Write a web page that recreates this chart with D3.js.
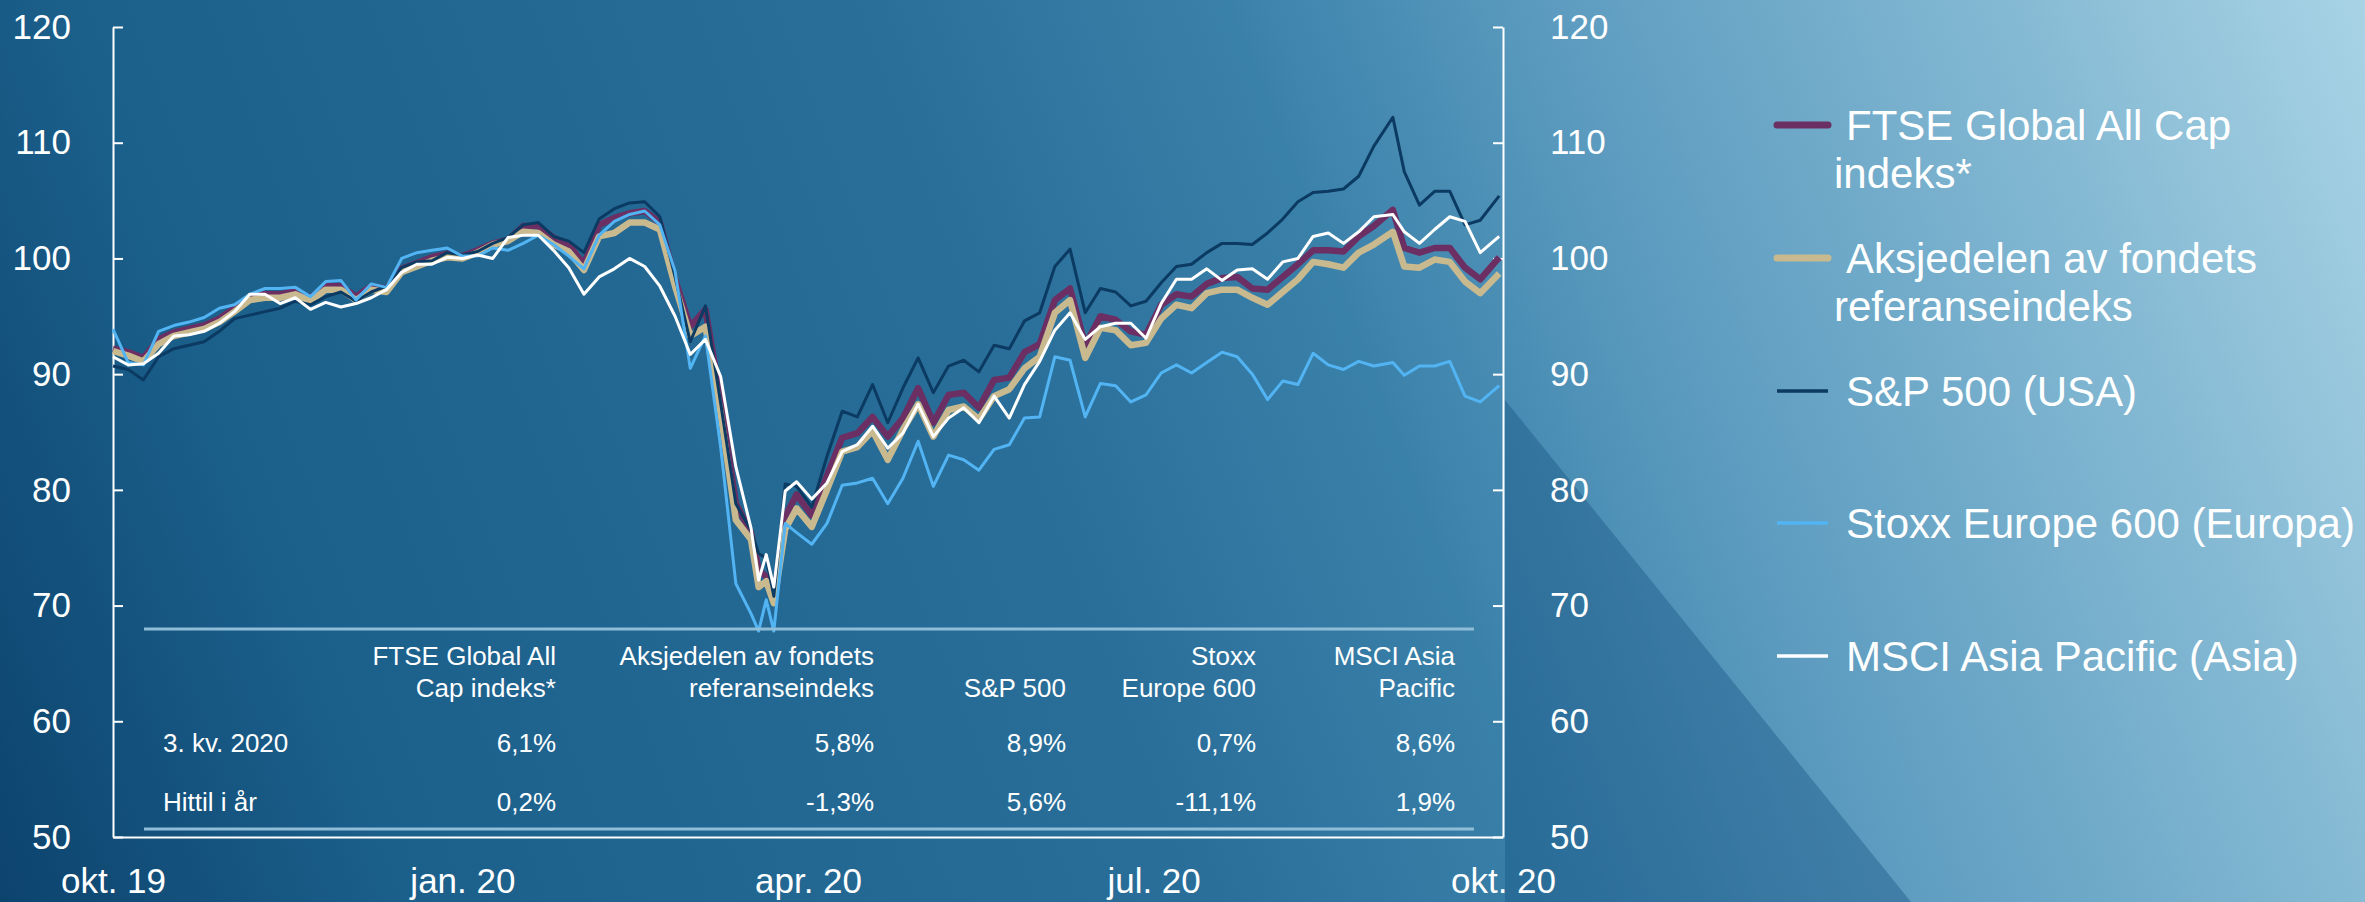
<!DOCTYPE html>
<html>
<head>
<meta charset="utf-8">
<script src="https://d3js.org/d3.v7.min.js"></script>
<style>
  body { margin: 0; overflow: hidden; background: #1b5d88; }
  svg { display: block; }
  text { font-family: "Liberation Sans", Arial, sans-serif; fill: #fff; }
</style>
</head>
<body>
<div id="chart"></div>
<script>
// data (index level, 1.1.2020 = 100)
var dates = ["2019-10-01","2019-10-05","2019-10-09","2019-10-13","2019-10-17","2019-10-21","2019-10-25","2019-10-29",
  "2019-11-02","2019-11-06","2019-11-10","2019-11-14","2019-11-18","2019-11-22","2019-11-26","2019-11-30",
  "2019-12-04","2019-12-08","2019-12-12","2019-12-16","2019-12-20","2019-12-24","2019-12-28",
  "2020-01-01","2020-01-05","2020-01-09","2020-01-13","2020-01-17","2020-01-21","2020-01-25","2020-01-29",
  "2020-02-02","2020-02-06","2020-02-10","2020-02-14","2020-02-18","2020-02-22","2020-02-26",
  "2020-03-01","2020-03-05","2020-03-09","2020-03-13","2020-03-17","2020-03-19","2020-03-21","2020-03-23","2020-03-26","2020-03-29",
  "2020-04-02","2020-04-06","2020-04-10","2020-04-14","2020-04-18","2020-04-22","2020-04-26","2020-04-30",
  "2020-05-04","2020-05-08","2020-05-12","2020-05-16","2020-05-20","2020-05-24","2020-05-28",
  "2020-06-01","2020-06-05","2020-06-09","2020-06-13","2020-06-17","2020-06-21","2020-06-25","2020-06-29",
  "2020-07-03","2020-07-07","2020-07-11","2020-07-15","2020-07-19","2020-07-23","2020-07-27","2020-07-31",
  "2020-08-04","2020-08-08","2020-08-12","2020-08-16","2020-08-20","2020-08-24","2020-08-28",
  "2020-09-02","2020-09-05","2020-09-09","2020-09-13","2020-09-17","2020-09-21","2020-09-25","2020-09-30"];

var ftse = [92.2,91.9,91.4,93.0,93.6,93.9,94.2,94.8,95.7,96.7,
  96.9,96.9,97.2,96.6,97.6,97.6,96.7,97.6,97.4,99.1,
  99.6,100.1,100.4,100.2,100.7,101.3,101.6,102.8,102.8,101.8,
  101.2,99.5,102.9,103.5,103.9,104.1,103.1,98.2,94.1,95.6,
  87.8,78.8,76.3,73.1,72.5,70.5,77.7,79.6,77.8,81.2,
  84.5,84.9,86.3,84.6,86.2,88.8,85.8,88.2,88.4,87.1,
  89.5,89.7,91.9,92.6,96.4,97.4,92.5,95.0,94.7,93.7,
  93.4,96.0,96.9,96.7,97.8,98.3,98.4,97.4,97.3,98.4,
  99.5,100.7,100.7,100.6,101.9,102.8,104.2,100.9,100.5,100.9,
  100.9,99.2,98.2,100.1];

var aksje = [92.0,91.6,91.1,92.6,93.3,93.6,93.9,94.5,95.4,96.4,
  96.6,96.6,96.9,96.3,97.3,97.3,96.4,97.3,97.1,98.8,
  99.3,99.8,100.1,100.0,100.5,101.2,101.5,102.3,102.2,101.2,
  100.6,99.0,101.9,102.2,103.1,103.1,102.5,97.6,93.3,94.1,
  86.6,77.4,75.7,71.6,72.1,70.2,76.6,78.4,76.8,80.0,
  83.3,83.7,85.1,82.6,85.2,87.4,84.6,86.9,87.2,86.1,
  88.1,88.7,90.5,91.5,95.3,96.4,91.4,94.0,93.8,92.5,
  92.7,94.8,96.0,95.7,97.0,97.3,97.3,96.6,96.0,97.1,
  98.2,99.7,99.5,99.2,100.5,101.2,102.3,99.3,99.2,99.9,
  99.7,98.0,97.0,98.7];

var sp500 = [90.7,90.4,89.5,91.5,92.2,92.5,92.8,93.7,94.8,95.1,
  95.4,95.7,96.3,96.0,96.7,97.1,96.3,97.1,97.6,99.2,
  99.7,99.8,100.5,100.3,100.6,101.3,101.8,102.9,103.1,101.9,
  101.5,100.5,103.4,104.3,104.8,104.9,103.6,98.4,92.8,95.9,
  87.5,78.8,76.5,74.5,74.1,70.8,80.5,80.3,78.5,82.9,
  86.8,86.3,89.1,85.8,88.8,91.4,88.4,90.7,91.2,90.2,
  92.5,92.2,94.6,95.3,99.3,100.8,95.3,97.4,97.1,95.9,
  96.3,97.9,99.3,99.5,100.5,101.3,101.3,101.2,102.2,103.4,
  104.9,105.7,105.8,106.0,107.1,109.7,112.2,107.5,104.6,105.8,
  105.8,102.9,103.3,105.4];

var stoxx = [93.9,91.0,90.8,93.7,94.2,94.5,94.9,95.7,96.0,96.9,
  97.4,97.4,97.5,96.7,98.0,98.1,96.4,97.8,97.5,100.0,
  100.5,100.7,100.9,100.2,100.2,100.9,100.7,101.3,102.0,101.2,
  100.2,99.1,102.0,103.2,103.8,104.1,102.9,98.9,90.5,93.3,
  83.7,71.9,69.3,67.8,70.5,67.8,77.1,76.3,75.3,77.1,
  80.4,80.6,81.0,78.8,81.0,84.2,80.3,83.0,82.6,81.7,
  83.5,83.9,86.2,86.3,91.5,91.2,86.3,89.2,89.0,87.6,
  88.2,90.1,90.8,90.1,91.0,91.9,91.5,90.0,87.8,89.4,
  89.1,91.8,90.8,90.4,91.1,90.7,91.0,89.9,90.7,90.7,
  91.1,88.1,87.6,89.0];

var msci = [91.5,90.8,90.9,91.8,93.3,93.4,93.7,94.4,95.4,96.9,
  96.9,96.1,96.6,95.6,96.2,95.8,96.1,96.6,97.3,98.8,
  99.5,99.5,100.1,100.0,100.3,100.0,101.8,102.0,102.0,100.7,
  99.2,96.9,98.4,99.1,100.0,99.3,97.6,95.0,91.7,93.0,
  89.8,82.0,76.7,72.2,74.4,71.6,79.9,80.7,79.2,80.6,
  83.3,83.9,85.5,83.6,84.9,87.4,84.6,86.2,87.1,85.8,
  88.1,86.2,89.1,91.1,93.8,95.3,93.0,94.1,94.4,94.4,
  93.1,96.1,98.2,98.2,99.1,98.1,99.0,99.1,98.2,99.7,
  100.0,101.9,102.2,101.3,102.3,103.6,103.8,102.3,101.3,102.5,
  103.6,103.2,100.5,101.9];

var yTicks = [50, 60, 70, 80, 90, 100, 110, 120];
var xTickDates = ["2019-10-01", "2020-01-01", "2020-04-01", "2020-07-01", "2020-10-01"];
var xTickLabels = ["okt. 19", "jan. 20", "apr. 20", "jul. 20", "okt. 20"];

var tableHeaders = [["FTSE Global All", "Cap indeks*"], ["Aksjedelen av fondets", "referanseindeks"],
  ["", "S&P 500"], ["Stoxx", "Europe 600"], ["MSCI Asia", "Pacific"]];
var tableRowLabels = ["3. kv. 2020", "Hittil i år"];
var q3Returns = ["6,1%", "5,8%", "8,9%", "0,7%", "8,6%"];
var ytdReturns = ["0,2%", "-1,3%", "5,6%", "-11,1%", "1,9%"];

var legendLabels = [["FTSE Global All Cap", "indeks*"], ["Aksjedelen av fondets", "referanseindeks"],
  ["S&P 500 (USA)"], ["Stoxx Europe 600 (Europa)"], ["MSCI Asia Pacific (Asia)"]];

//Set up chart
var svgWidth = 2365;
var svgHeight = 902;

var margin = { top: 27, right: 862, bottom: 65, left: 113 };
var width = svgWidth - margin.left - margin.right;
var height = svgHeight - margin.top - margin.bottom;

var parseDate = d3.timeParse("%Y-%m-%d");

var svg = d3.select("#chart")
  .append("svg")
  .attr("width", svgWidth)
  .attr("height", svgHeight);

// background
var defs = svg.append("defs");
var bg = defs.append("linearGradient")
  .attr("id", "bg")
  .attr("gradientUnits", "userSpaceOnUse")
  .attr("x1", 0).attr("y1", svgHeight)
  .attr("x2", svgWidth).attr("y2", 0);
[[0, "#0c446e"], [0.15, "#1b5f8b"], [0.45, "#2a6f9a"], [0.58, "#3a81aa"],
 [0.7, "#5d9cc0"], [0.85, "#80b6d1"], [1, "#a8d3e5"]].forEach(function(s) {
  bg.append("stop").attr("offset", s[0]).attr("stop-color", s[1]);
});

svg.append("rect")
  .attr("width", svgWidth)
  .attr("height", svgHeight)
  .attr("fill", "url(#bg)");

// darker wedge right of the plot
svg.append("polygon")
  .attr("points", [[1505, 400], [1911, 902], [1505, 902]].join(" "))
  .attr("fill", "rgba(18,78,125,0.38)");

var chartGroup = svg.append("g")
  .attr("transform", `translate(${margin.left}, ${margin.top})`);

var xScale = d3.scaleTime()
  .domain([parseDate("2019-10-01"), parseDate("2020-10-01")])
  .range([0, width]);

var yScale = d3.scaleLinear()
  .domain([50, 120])
  .range([height, 0]);

// axes
var leftAxis = d3.axisLeft(yScale).tickValues(yTicks).tickSize(-10).tickSizeOuter(0).tickPadding(42);
var rightAxis = d3.axisRight(yScale).tickValues(yTicks).tickSize(-10).tickSizeOuter(0).tickPadding(47);
var bottomAxis = d3.axisBottom(xScale)
  .tickValues(xTickDates.map(parseDate))
  .tickFormat(function(d, i) { return xTickLabels[i]; })
  .tickSize(0).tickSizeOuter(0);

function styleAxis(g) {
  g.select(".domain").attr("stroke", "#fff").attr("stroke-width", 2);
  g.selectAll(".tick line").attr("stroke", "#fff").attr("stroke-width", 2);
  g.selectAll("text").attr("fill", "#fff").style("font-size", "35px")
    .style("font-family", '"Liberation Sans", Arial, sans-serif');
}

chartGroup.append("g").call(leftAxis).call(styleAxis);
chartGroup.append("g").attr("transform", `translate(${width}, 0)`).call(rightAxis).call(styleAxis);
var xAxis = chartGroup.append("g").attr("transform", `translate(0, ${height})`).call(bottomAxis).call(styleAxis);
xAxis.selectAll("text").attr("y", 56).attr("dy", 0);

// series
var series = [
  { values: ftse, color: "#6b2f63", width: 6.5 },
  { values: aksje, color: "#c8b98f", width: 6.5 },
  { values: sp500, color: "#0b3a62", width: 3 },
  { values: stoxx, color: "#52b4f3", width: 3 },
  { values: msci, color: "#ffffff", width: 3 }
];

var line = d3.line()
  .x(function(d) { return xScale(d.date); })
  .y(function(d) { return yScale(d.value); });

series.forEach(function(s) {
  var pts = dates.map(function(d, i) { return { date: parseDate(d), value: s.values[i] }; });
  chartGroup.append("path")
    .datum(pts)
    .attr("d", line)
    .attr("fill", "none")
    .attr("stroke", s.color)
    .attr("stroke-width", s.width)
    .attr("stroke-linejoin", "round");
});

// table inside the plot
var tableGroup = svg.append("g");
[629, 829].forEach(function(yy) {
  tableGroup.append("line")
    .attr("x1", 144).attr("x2", 1474)
    .attr("y1", yy).attr("y2", yy)
    .attr("stroke", "#8fbcd6")
    .attr("stroke-width", 3);
});

var colRight = [556, 874, 1066, 1256, 1455];

tableHeaders.forEach(function(h, i) {
  h.forEach(function(t, j) {
    tableGroup.append("text")
      .attr("x", colRight[i])
      .attr("y", 665 + j * 32)
      .attr("text-anchor", "end")
      .style("font-size", "26px")
      .text(t);
  });
});

[q3Returns, ytdReturns].forEach(function(row, r) {
  var yy = r === 0 ? 752 : 811;
  tableGroup.append("text")
    .attr("x", 163).attr("y", yy)
    .style("font-size", "26px")
    .text(tableRowLabels[r]);
  row.forEach(function(v, i) {
    tableGroup.append("text")
      .attr("x", colRight[i]).attr("y", yy)
      .attr("text-anchor", "end")
      .style("font-size", "26px")
      .text(v);
  });
});

// legend
var legendY = [125, 258, 391, 523, 656];
var legendGroup = svg.append("g");
series.forEach(function(s, i) {
  legendGroup.append("line")
    .attr("x1", 1777).attr("x2", 1828)
    .attr("y1", legendY[i]).attr("y2", legendY[i])
    .attr("stroke", s.color)
    .attr("stroke-width", s.width > 4 ? 7 : 3.5)
    .attr("stroke-linecap", s.width > 4 ? "round" : "butt");
  legendLabels[i].forEach(function(t, j) {
    legendGroup.append("text")
      .attr("x", j === 0 ? 1846 : 1834)
      .attr("y", legendY[i] + 15 + j * 48)
      .style("font-size", "42px")
      .text(t);
  });
});
</script>
</body>
</html>
